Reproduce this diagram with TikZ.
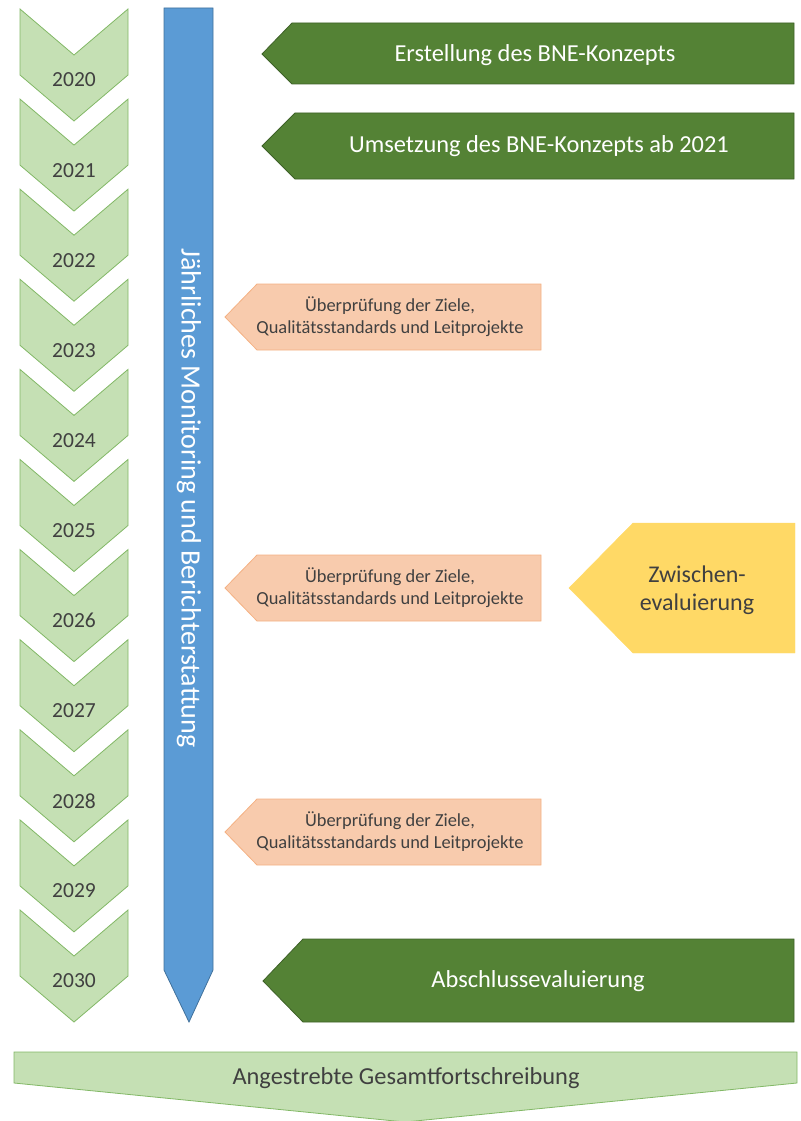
\documentclass[tikz,border=0pt]{standalone}
\usepackage{fontspec}
\setmainfont{Carlito}
\usetikzlibrary{calc}
\definecolor{chevfill}{HTML}{C5E0B4}
\definecolor{chevline}{HTML}{82B866}
\definecolor{bluefill}{HTML}{5B9BD5}
\definecolor{blueline}{HTML}{41719C}
\definecolor{darkgreen}{HTML}{548235}
\definecolor{darkgreenline}{HTML}{3E6128}
\definecolor{orangefill}{HTML}{F8CBAD}
\definecolor{orangeline}{HTML}{F4B183}
\definecolor{yellowfill}{HTML}{FFD966}
\definecolor{txtgray}{HTML}{404040}

\begin{document}
\begin{tikzpicture}[x=1pt, y=-1pt,
  chev/.style={fill=chevfill, draw=chevline, line width=0.8pt},
  yr/.style={text=txtgray, font=\fontsize{21.5}{24}\selectfont},
  dgreen/.style={fill=darkgreen, draw=darkgreenline, line width=0.8pt},
  wtxt/.style={text=white, font=\fontsize{24.4}{28}\selectfont},
  review/.style={fill=orangefill, draw=orangeline, line width=0.8pt},
  otxt/.style={text=txtgray, align=center, font=\fontsize{18.4}{22}\selectfont}]
\useasboundingbox (0,0) rectangle (800,1121);

% Jahre
\foreach \yr [count=\i from 0] in {2020,...,2030} {
  \pgfmathsetmacro{\t}{9+90.1*\i}
  \draw[chev] (20,\t) -- (74,\t+46) -- (128,\t) -- (128,\t+66) -- (74,\t+112) -- (20,\t+66) -- cycle;
  \node[yr] (y\yr) at (74,\t+71) {\yr};
}

% Monitoring
\draw[fill=bluefill, draw=blueline, line width=0.8pt] (164,8) -- (213,8) -- (213,970) -- (189,1022) -- (164,970) -- cycle;
\node[text=white, rotate=-90, font=\fontsize{28}{32}\selectfont] (M) at (189,498) {Jährliches Monitoring und Berichterstattung};

% Konzept
\draw[dgreen] (262,54) -- (292,23) -- (794,23) -- (794,84) -- (292,84) -- cycle;
\node[wtxt] (K1) at (535,55) {Erstellung des BNE-Konzepts};
\draw[dgreen] (262,146) -- (295,113) -- (794,113) -- (794,179) -- (295,179) -- cycle;
\node[wtxt] (K2) at (539,146) {Umsetzung des BNE-Konzepts ab 2021};
\draw[dgreen] (263,981) -- (303,939) -- (794,939) -- (794,1022) -- (303,1022) -- cycle;
\node[wtxt] (K3) at (538,981) {Abschlussevaluierung};

% Überprüfung
\foreach \top/\nm in {284/R1, 555/R2, 799/R3} {
  \draw[review] (225,\top+33) -- (257,\top) -- (541,\top) -- (541,\top+66) -- (257,\top+66) -- cycle;
  \node[otxt] (\nm) at (390,\top+33) {Überprüfung der Ziele,\\Qualitätsstandards und Leitprojekte};
}

% Zwischenevaluierung
\draw[fill=yellowfill, draw=yellowfill] (569,588) -- (633,523) -- (795,523) -- (795,653) -- (633,653) -- cycle;
\node[text=txtgray, align=center, font=\fontsize{24}{28}\selectfont] (Z) at (697,590) {Zwischen-\\evaluierung};

% Fortschreibung
\draw[chev] (14,1052) -- (797,1052) -- (797,1083) -- (405,1122) -- (14,1083) -- cycle;
\node[text=txtgray, font=\fontsize{24.4}{28}\selectfont] (G) at (406,1078) {Angestrebte Gesamtfortschreibung};
\end{tikzpicture}
\end{document}
